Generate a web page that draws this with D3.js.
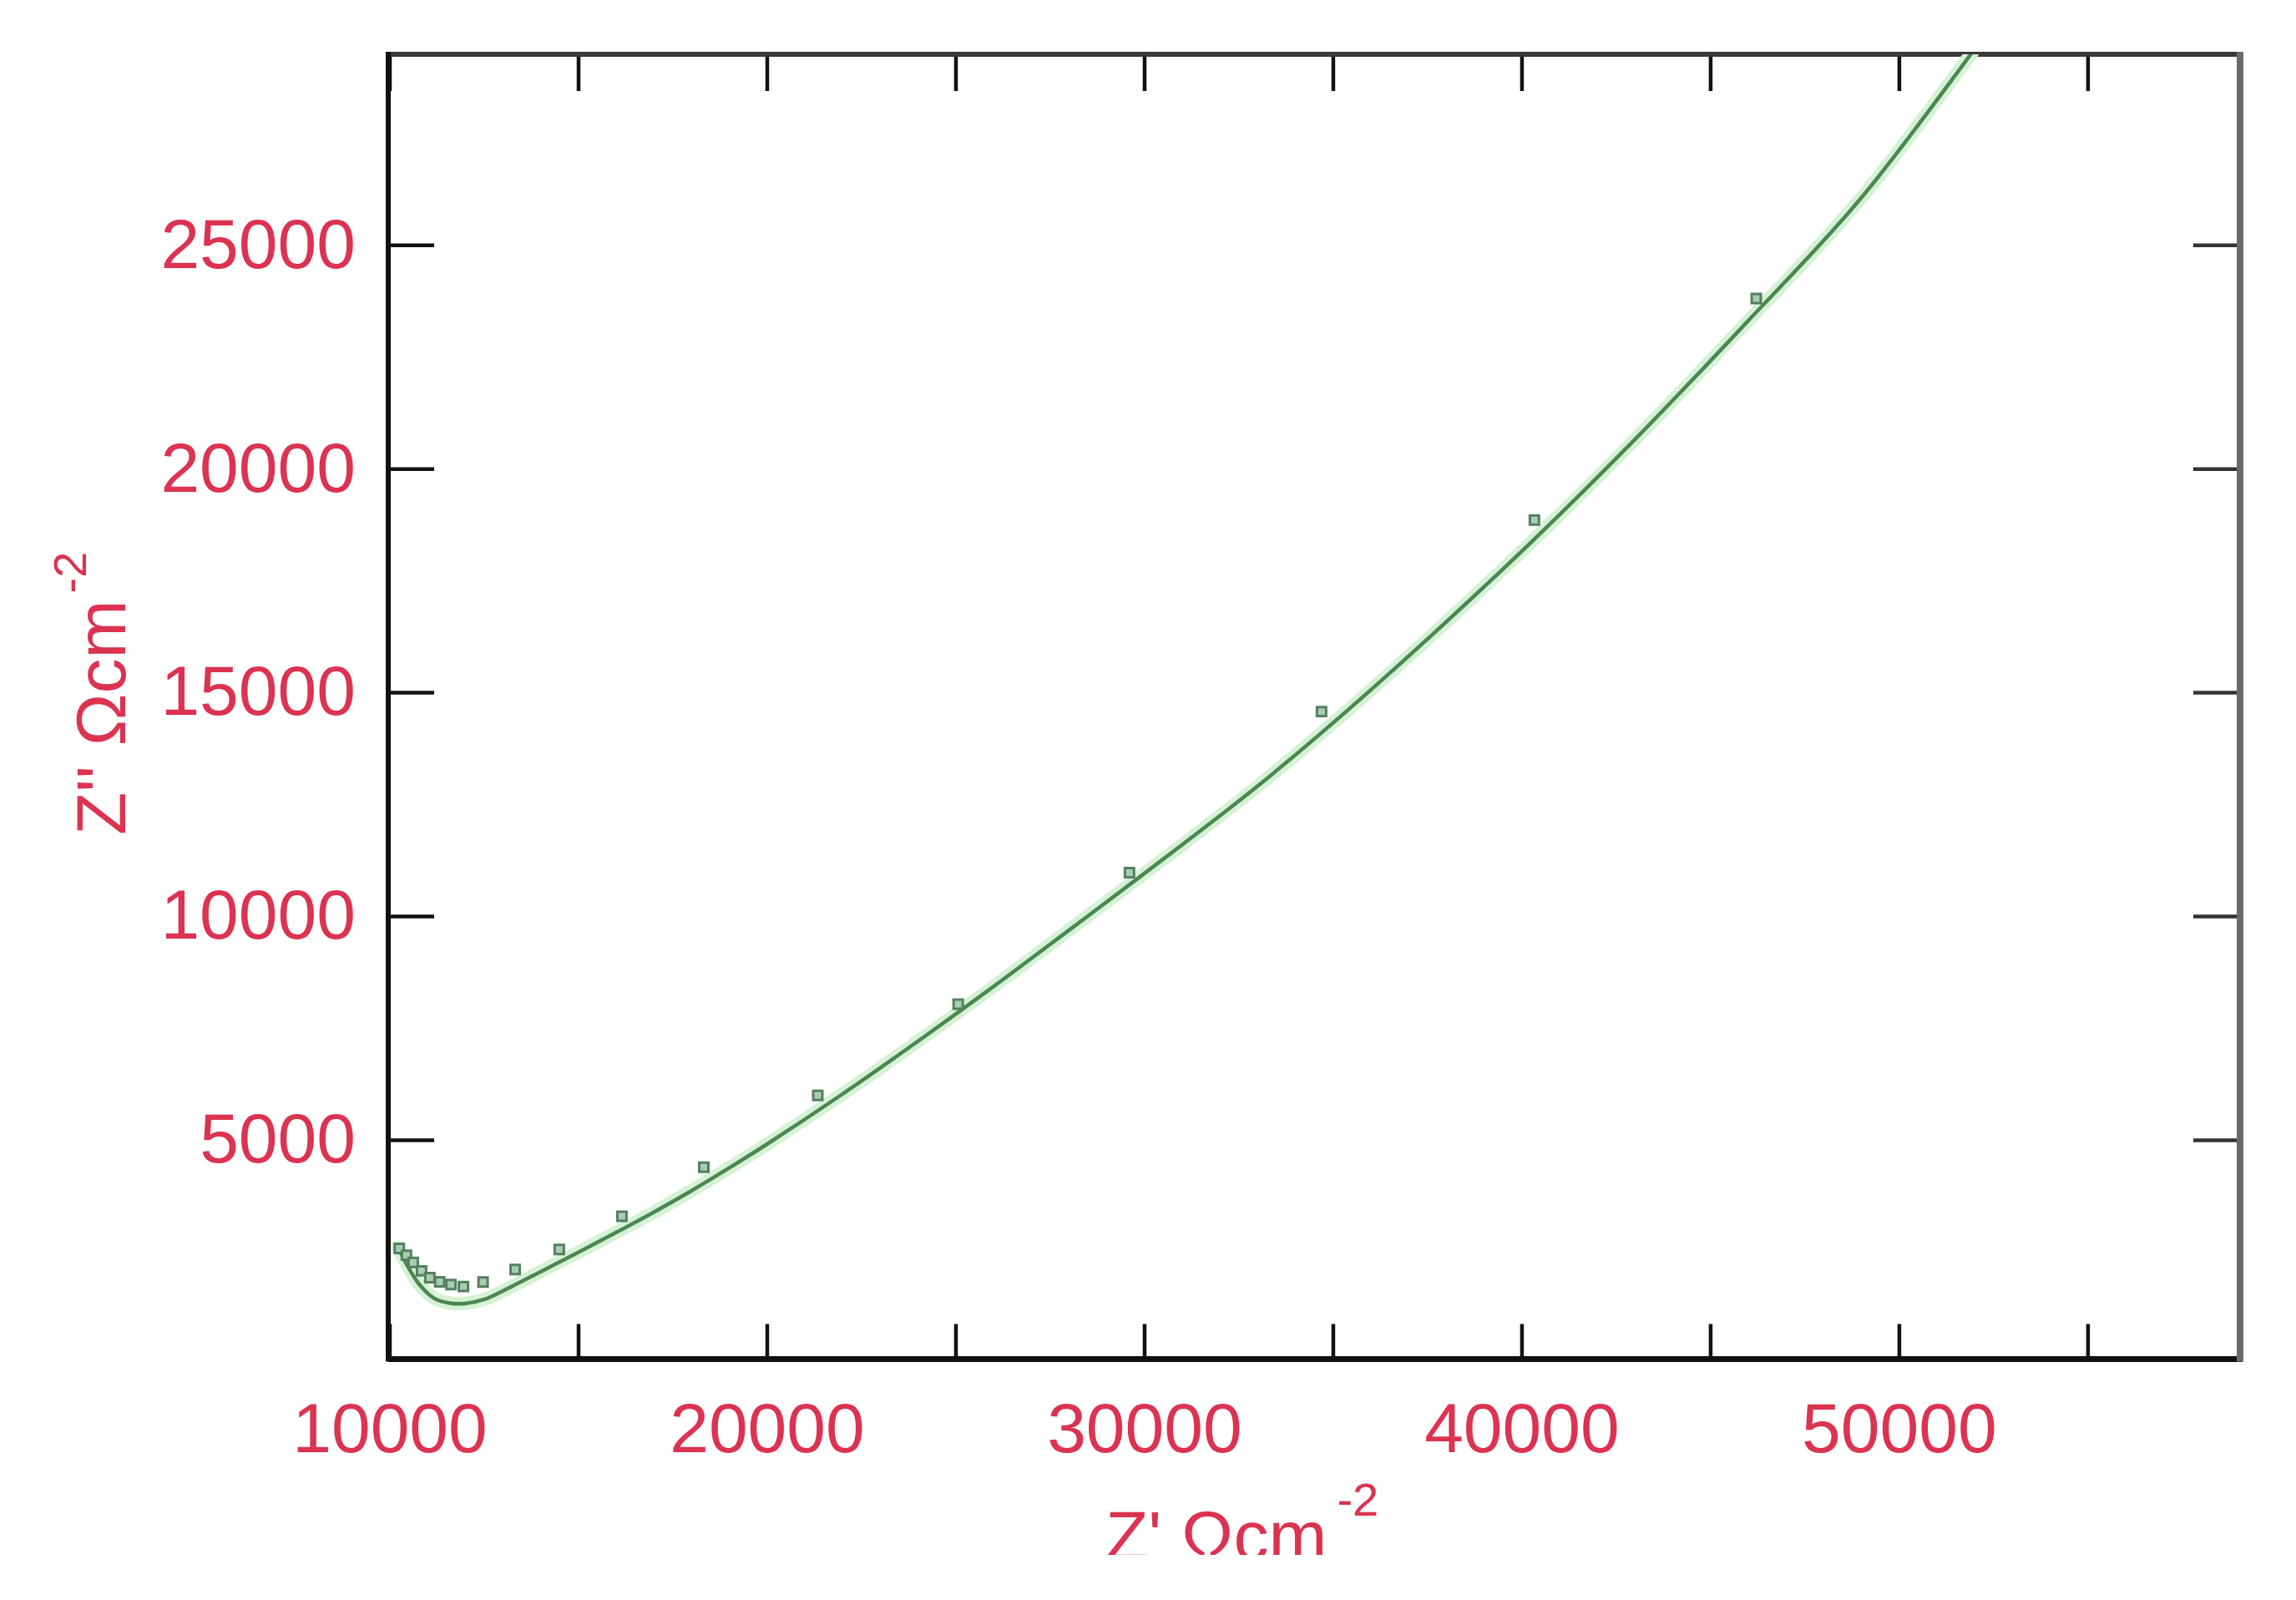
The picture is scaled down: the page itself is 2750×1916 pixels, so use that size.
<!DOCTYPE html>
<html>
<head>
<meta charset="utf-8">
<script src="https://cdn.jsdelivr.net/npm/d3@7"></script>
<style>
  html, body { margin: 0; padding: 0; background: #ffffff; }
  svg { display: block; }
</style>
</head>
<body>
<script>
// ---- data ----
const xTickValues = [10000, 15000, 20000, 25000, 30000, 35000, 40000, 45000, 50000, 55000];
const xTickLabels = [10000, 20000, 30000, 40000, 50000];
const yTickValues = [5000, 10000, 15000, 20000, 25000];

// measured points (Z', Z'')
const pointX = [10260, 10450, 10630, 10850, 11070, 11330, 11630, 11960, 12480, 13330, 14500, 16160, 18330, 21350, 25070, 29610, 34700, 40340, 46220];
const pointY = [2570, 2420, 2260, 2070, 1920, 1825, 1765, 1720, 1820, 2100, 2550, 3290, 4385, 5990, 8030, 10970, 14570, 18850, 23800];

// fitted curve
const curveX = [10220, 10500, 10800, 11200, 11600, 12000, 12500, 13000, 14000, 15000, 16000, 17000, 18000, 19000, 20000, 22000, 24000, 26000, 28000, 30000, 33000, 36000, 40000, 43000, 46000, 49000, 52500];
const curveY = [2600, 2150, 1760, 1450, 1350, 1340, 1430, 1620, 2050, 2485, 2925, 3380, 3860, 4370, 4900, 6020, 7200, 8420, 9680, 10950, 12900, 15050, 18150, 20650, 23300, 26050, 29950];

// ---- layout ----
const W = 2750, H = 1916;
const L = 465, R = 2683, T = 65, B = 1627.5;
const red = "#db3350";
const font = "'Liberation Sans', Arial, Helvetica, sans-serif";

const svg = d3.select("body").append("svg")
  .attr("width", W).attr("height", H)
  .attr("viewBox", `0 0 ${W} ${H}`);

svg.append("rect").attr("width", W).attr("height", H).attr("fill", "#fff");

const x = d3.scaleLinear().domain([9967, 59040]).range([L, R]);
const y = d3.scaleLinear().domain([99, 29260]).range([B, T]);

const defs = svg.append("defs");
defs.append("clipPath").attr("id", "plotClip")
  .append("rect").attr("x", L).attr("y", T).attr("width", R - L).attr("height", B - T);
defs.append("clipPath").attr("id", "titleClip")
  .append("rect").attr("x", 0).attr("y", 0).attr("width", W).attr("height", 1862);

// ---- axes (inside ticks) ----
const fmt = d => xTickLabels.includes(d) ? String(d) : "";

const gBottom = svg.append("g").attr("transform", `translate(0,${B})`)
  .call(d3.axisBottom(x).tickValues(xTickValues).tickFormat(fmt)
    .tickSize(-42).tickSizeOuter(0).tickPadding(52));
const gTop = svg.append("g").attr("transform", `translate(0,${T})`)
  .call(d3.axisTop(x).tickValues(xTickValues).tickFormat("")
    .tickSize(-44).tickSizeOuter(0));
const gLeft = svg.append("g").attr("transform", `translate(${L},0)`)
  .call(d3.axisLeft(y).tickValues(yTickValues).tickFormat(d => String(d))
    .tickSize(-55).tickSizeOuter(0).tickPadding(39));
const gRight = svg.append("g").attr("transform", `translate(${R},0)`)
  .call(d3.axisRight(y).tickValues(yTickValues).tickFormat("")
    .tickSize(-56).tickSizeOuter(0));

[gBottom, gTop, gLeft, gRight].forEach(g => {
  g.select(".domain").remove();
  g.selectAll(".tick line").attr("stroke", "#111").attr("stroke-width", 4.5);
  g.selectAll(".tick text")
    .attr("fill", red)
    .style("font-family", font)
    .style("font-size", "84px");
});
gRight.selectAll(".tick line").attr("stroke", "#333");

// ---- frame ----
const frame = svg.append("g");
frame.append("line").attr("x1", L).attr("x2", R).attr("y1", T).attr("y2", T)
  .attr("stroke", "#3a3a3a").attr("stroke-width", 6);
frame.append("line").attr("x1", L).attr("x2", R + 3).attr("y1", B).attr("y2", B)
  .attr("stroke", "#111").attr("stroke-width", 7);
frame.append("line").attr("x1", L).attr("x2", L).attr("y1", T - 3).attr("y2", B + 3)
  .attr("stroke", "#111").attr("stroke-width", 6);
frame.append("line").attr("x1", R).attr("x2", R).attr("y1", T - 3).attr("y2", B + 3)
  .attr("stroke", "#6a6a6a").attr("stroke-width", 8);

// ---- data ----
const plot = svg.append("g").attr("clip-path", "url(#plotClip)");

const curveData = curveX.map((v, i) => [v, curveY[i]]);
const line = d3.line().x(d => x(d[0])).y(d => y(d[1])).curve(d3.curveCatmullRom.alpha(0.5));

plot.append("path").datum(curveData)
  .attr("d", line).attr("fill", "none")
  .attr("stroke", "#d6f2d6").attr("stroke-width", 16).attr("stroke-linecap", "round");
plot.append("path").datum(curveData)
  .attr("d", line).attr("fill", "none")
  .attr("stroke", "#4b8751").attr("stroke-width", 4.5);

const pts = pointX.map((v, i) => [v, pointY[i]]);
const sym = d3.symbol().type(d3.symbolSquare).size(120);
plot.selectAll("path.pt").data(pts).enter().append("path")
  .attr("class", "pt")
  .attr("transform", d => `translate(${x(d[0])},${y(d[1])})`)
  .attr("d", sym)
  .attr("fill", "#a9cdb0")
  .attr("stroke", "#557f60")
  .attr("stroke-width", 3);

// ---- axis titles ----
const xt = svg.append("text")
  .attr("clip-path", "url(#titleClip)")
  .attr("x", 1324).attr("y", 1868)
  .attr("fill", red)
  .style("font-family", font).style("font-size", "84px");
xt.append("tspan").text("Z' Ωcm");
xt.append("tspan").attr("dx", 12).attr("dy", -53).style("font-size", "56px").text("-2");

const yt = svg.append("text")
  .attr("transform", "translate(150,1000) rotate(-90)")
  .attr("fill", red)
  .style("font-family", font).style("font-size", "84px");
yt.append("tspan").text("Z'' Ωcm");
yt.append("tspan").attr("dx", 8).attr("dy", -47).style("font-size", "56px").text("-2");
</script>
</body>
</html>
